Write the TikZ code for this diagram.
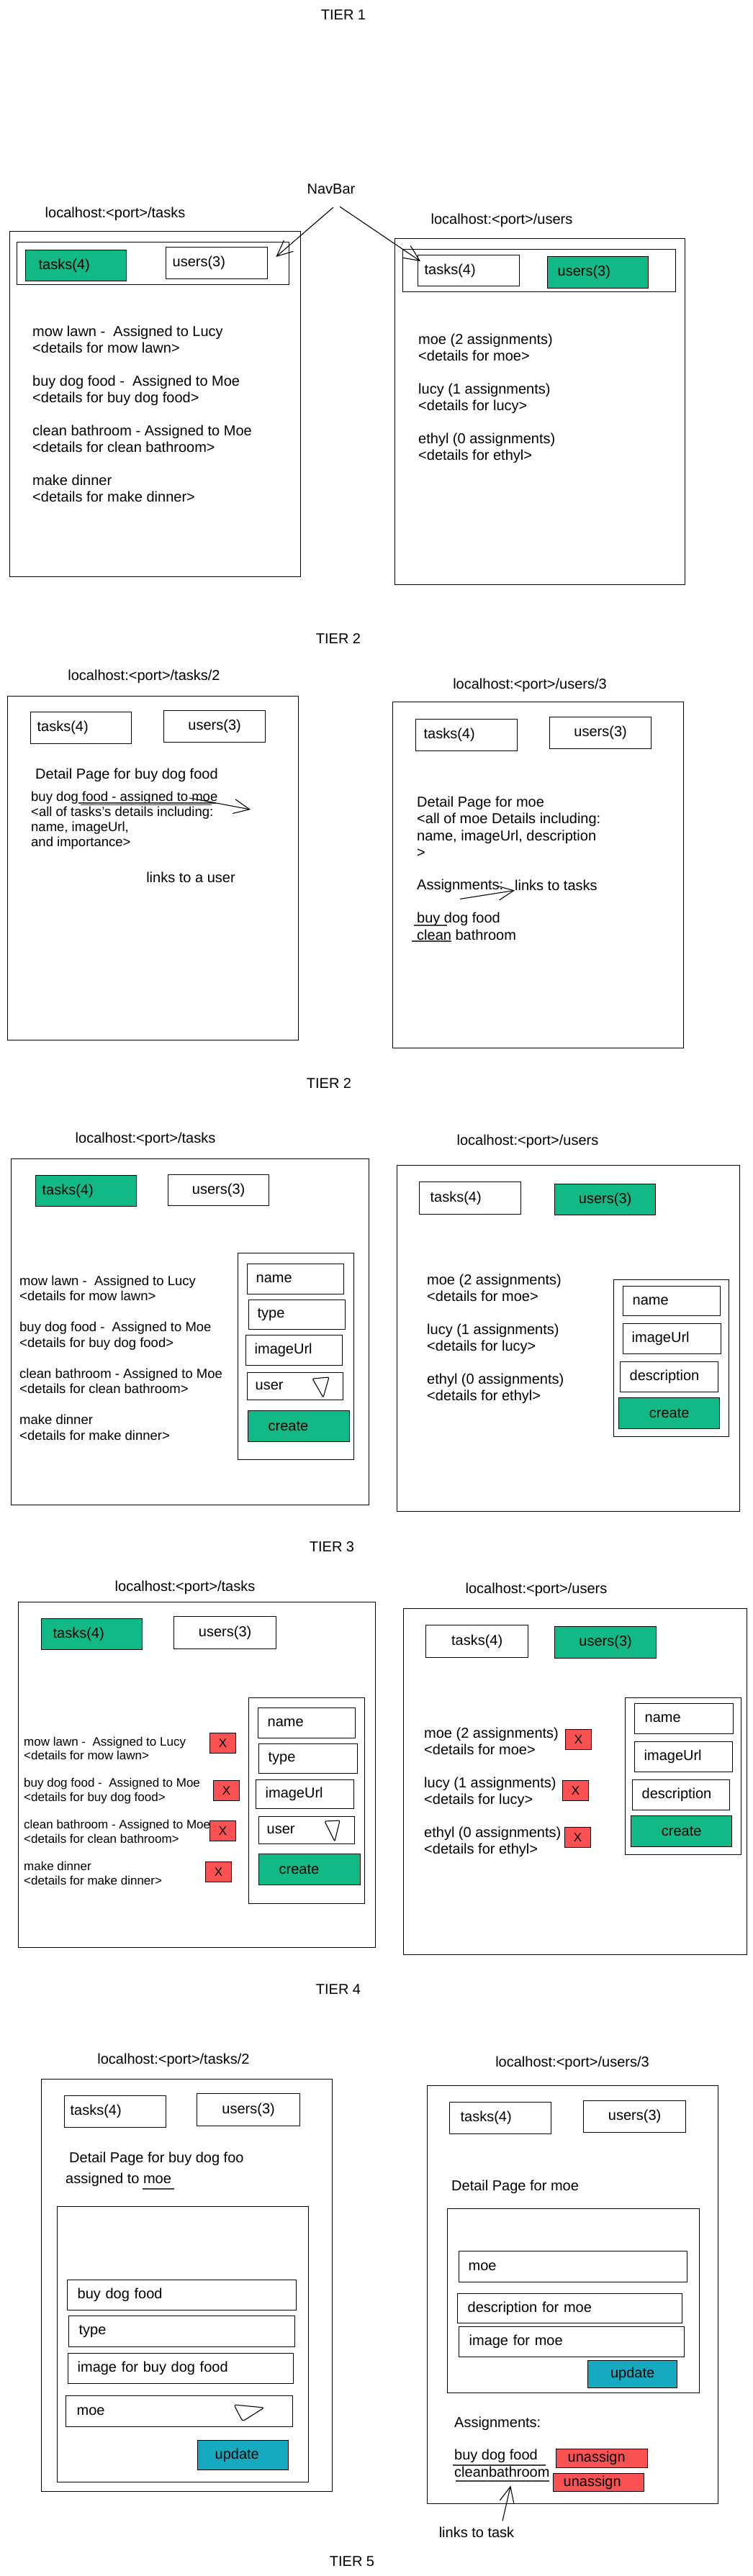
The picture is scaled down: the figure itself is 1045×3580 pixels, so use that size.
\documentclass[tikz,border=0pt]{standalone}
\usepackage{fontspec}
\setmainfont{Liberation Sans}
\usepackage{tikz}
\usetikzlibrary{positioning,arrows.meta}
\definecolor{exgreen}{HTML}{12B886}
\definecolor{exred}{HTML}{FA5252}
\definecolor{exteal}{HTML}{15AABF}
\newcommand{\pxfont}[2]{\fontsize{#1}{#2}\selectfont}
\tikzset{
	lbl/.style={inner sep=0pt, font=\pxfont{20}{23}},
	txt/.style={lbl, align=left, anchor=base west},
	pagebox/.style={draw, line width=1.3pt, anchor=north west, inner sep=0pt},
	btn/.style={pagebox, font=\pxfont{20}{23}},
	lbtn/.style 2 args={btn, text width=#1, inner xsep=#2, align=left},
	gbtn/.style={fill=exgreen},
	rbtn/.style={fill=exred},
	tbtn/.style={fill=exteal},
	xbtn/.style={btn, rbtn, font=\pxfont{17}{19}, minimum width=36, minimum height=28},
	arr/.style={-{Straight Barb[length=22pt,width=20pt]}, line width=1.1pt},
	uline/.style={line width=1.2pt, black!75},
}
\begin{document}
\begin{tikzpicture}[x=1pt, y=-1pt]
			\fill[white] (0,0) rectangle (1045,3580);
			\useasboundingbox (0,0) rectangle (1045,3580);
			% tier 1
			\node[lbl] (tier1) at (477,21) {TIER 1};
			\node[lbl] (navbar) at (460,263) {NavBar};
			\node[lbl] (url1L) at (160,297) {localhost:<port>/tasks};
			\node[pagebox, minimum width=404, minimum height=480] (pg1L) at (13,321) {};
			\node[pagebox, minimum width=378, minimum height=59] (nav1L) at (23,336) {};
			\node[lbtn={104pt}{18pt}, gbtn, minimum height=43] (tasks1L) at (35,347) {tasks(4)};
			\node[lbtn={123pt}{9pt}, minimum height=44] (users1L) at (230,343) {users(3)};
			% multi-line texts are placed by the baseline of their last line
			\node[txt] (list1L) at (45,697) {mow lawn -~ Assigned to Lucy\\<details for mow lawn>\\[23pt]buy dog food -~ Assigned to Moe\\<details for buy dog food>\\[23pt]clean bathroom - Assigned to Moe\\<details for clean bathroom>\\[23pt]make dinner\\<details for make dinner>};
			\node[lbl] (url1R) at (697,306) {localhost:<port>/users};
			\node[pagebox, minimum width=403, minimum height=481] (pg1R) at (548,331) {};
			\node[pagebox, minimum width=379, minimum height=59] (nav1R) at (559,346) {};
			\node[lbtn={123pt}{9pt}, minimum height=43] (tasks1R) at (580,354) {tasks(4)};
			\node[lbtn={112pt}{14pt}, gbtn, minimum height=44] (users1R) at (760,356) {users(3)};
			\node[txt] (list1R) at (581,639) {moe (2 assignments)\\<details for moe>\\[23pt]lucy (1 assignments)\\<details for lucy>\\[23pt]ethyl (0 assignments)\\<details for ethyl>};
			\coordinate (tipL) at ([shift={(-19,21)}]nav1L.north east);
			\coordinate (tipR) at ([shift={(4,9)}]tasks1R.north west);
			\draw[arr] ([xshift=3pt,yshift=-18pt]navbar.south) -- (tipL);
			\draw[arr] ([xshift=12pt,yshift=-17pt]navbar.south) -- (tipR);
			% tier 2
			\node[lbl] (tier2a) at (470,888) {TIER 2};
			\node[lbl] (url2L) at (200,940) {localhost:<port>/tasks/2};
			\node[pagebox, minimum width=404, minimum height=478] (pg2L) at (10,967) {};
			\node[lbtn={122pt}{9pt}, minimum height=44] (tasks2L) at (42,989) {tasks(4)};
			\node[btn, minimum width=141, minimum height=44] (users2L) at (227,987) {users(3)};
			\node[txt] (title2L) at (49,1082) {Detail Page for buy dog food};
			\node[txt, font=\pxfont{18.5}{21}] (det2L) at (43,1176) {buy dog food - assigned to moe\\<all of tasks's details including:\\name, imageUrl,\\and importance>};
			\draw[uline] (109,1116) -- (300,1116);
			\draw[uline] (112,1118.5) -- (294,1118.5);
			\coordinate (det2Ls) at (263,1109);
			\coordinate (det2Le) at (348,1125);
			\draw[arr] (det2Ls) -- (det2Le);
			\node[lbl] (links2L) at (265,1219) {links to a user};
			\node[lbl] (url2R) at (736,952) {localhost:<port>/users/3};
			\node[pagebox, minimum width=404, minimum height=481] (pg2R) at (545,975) {};
			\node[lbtn={119pt}{11pt}, minimum height=44] (tasks2R) at (577,999) {tasks(4)};
			\node[btn, minimum width=141, minimum height=44] (users2R) at (763,996) {users(3)};
			\node[txt, font=\pxfont{20}{23.5}] (det2R) at (579,1191.5) {Detail Page for moe\\<all of moe Details including:\\name, imageUrl, description\\>};
			\node[txt] (assign2R) at (579,1236) {Assignments:};
			\node[txt] (links2R) at (715,1237) {links to tasks};
			\draw[arr] ([yshift=-9pt]assign2R.south) -- (links2R.south west);
			\node[txt, font=\pxfont{20}{24}] (tasks2Rl) at (579,1306) {buy dog food\\clean bathroom};
			\draw[uline] (575,1286) -- (621,1286);
			\draw[uline] (572,1308) -- (627,1308);
			\node[lbl] (tier2b) at (457,1505) {TIER 2};
			% tier 3
			\node[lbl] (url3L) at (202,1583) {localhost:<port>/tasks};
			\node[pagebox, minimum width=497, minimum height=481] (pg3L) at (15,1610) {};
			\node[lbtn={122pt}{9pt}, gbtn, minimum height=43] (tasks3L) at (49,1633) {tasks(4)};
			\node[btn, minimum width=140, minimum height=43] (users3L) at (233,1632) {users(3)};
			\node[txt, font=\pxfont{18.5}{21.5}] (list3L) at (27,2001) {mow lawn -~ Assigned to Lucy\\<details for mow lawn>\\[21.5pt]buy dog food -~ Assigned to Moe\\<details for buy dog food>\\[21.5pt]clean bathroom - Assigned to Moe\\<details for clean bathroom>\\[21.5pt]make dinner\\<details for make dinner>};
			\node[pagebox, minimum width=161, minimum height=287] (form3L) at (330,1741) {};
			\node[lbtn={110pt}{12pt}, minimum height=42] (name3L) at (343,1756) {name};
			\node[lbtn={110pt}{12pt}, minimum height=41] (type3L) at (345,1806) {type};
			\node[lbtn={110pt}{12pt}, minimum height=42] (img3L) at (341,1855) {imageUrl};
			\node[lbtn={111pt}{11pt}, minimum height=38] (user3L) at (343,1907) {user};
			\draw[line width=1.1pt, rounded corners=2pt] (434,1916) -- (457,1914) -- (449,1942) -- cycle;
			\node[lbtn={85pt}{28pt}, gbtn, minimum height=43] (create3L) at (344,1960) {create};
			\node[lbl] (url3R) at (733,1586) {localhost:<port>/users};
			\node[pagebox, minimum width=476, minimum height=481] (pg3R) at (551,1619) {};
			\node[lbtn={111pt}{15pt}, minimum height=45] (tasks3R) at (582,1642) {tasks(4)};
			\node[btn, gbtn, minimum width=140, minimum height=43] (users3R) at (770,1645) {users(3)};
			\node[txt] (list3R) at (593,1946) {moe (2 assignments)\\<details for moe>\\[23pt]lucy (1 assignments)\\<details for lucy>\\[23pt]ethyl (0 assignments)\\<details for ethyl>};
			\node[pagebox, minimum width=160, minimum height=218] (form3R) at (852,1778) {};
			\node[lbtn={109pt}{13pt}, minimum height=41] (name3R) at (865,1787) {name};
			\node[lbtn={112pt}{12pt}, minimum height=42] (img3R) at (865,1839) {imageUrl};
			\node[lbtn={110pt}{13pt}, minimum height=42] (desc3R) at (861,1892) {description};
			\node[btn, gbtn, minimum width=140, minimum height=43] (create3R) at (859,1942) {create};
			\node[lbl] (tier3) at (461,2150) {TIER 3};
			% tier 4
			\node[lbl] (url4L) at (257,2206) {localhost:<port>/tasks};
			\node[pagebox, minimum width=496, minimum height=480] (pg4L) at (25,2226) {};
			\node[lbtn={108pt}{16pt}, gbtn, minimum height=43] (tasks4L) at (57,2249) {tasks(4)};
			\node[btn, minimum width=142, minimum height=45] (users4L) at (241,2246) {users(3)};
			\node[txt, font=\pxfont{17}{19.3}] (list4L) at (33,2619) {mow lawn -~ Assigned to Lucy\\<details for mow lawn>\\[19.3pt]buy dog food -~ Assigned to Moe\\<details for buy dog food>\\[19.3pt]clean bathroom - Assigned to Moe\\<details for clean bathroom>\\[19.3pt]make dinner\\<details for make dinner>};
			\node[xbtn] (x4L1) at (291,2408) {X};
			\node[xbtn] (x4L2) at (296,2474) {X};
			\node[xbtn] (x4L3) at (291,2530) {X};
			\node[xbtn] (x4L4) at (285,2587) {X};
			\node[pagebox, minimum width=161, minimum height=286] (form4L) at (345,2359) {};
			\node[lbtn={109pt}{13pt}, minimum height=42] (name4L) at (358,2373) {name};
			\node[lbtn={111pt}{13pt}, minimum height=41] (type4L) at (359,2423) {type};
			\node[lbtn={110pt}{13pt}, minimum height=40] (img4L) at (355,2473) {imageUrl};
			\node[lbtn={111pt}{11pt}, minimum height=38] (user4L) at (359,2524) {user};
			\draw[line width=1.1pt, rounded corners=2pt] (451,2531) -- (472,2530) -- (465,2559) -- cycle;
			\node[lbtn={85pt}{28pt}, gbtn, minimum height=43] (create4L) at (359,2576) {create};
			\node[lbl] (url4R) at (745,2209) {localhost:<port>/users};
			\node[pagebox, minimum width=477, minimum height=481] (pg4R) at (560,2235) {};
			\node[btn, minimum width=142, minimum height=45] (tasks4R) at (591,2258) {tasks(4)};
			\node[btn, gbtn, minimum width=141, minimum height=44] (users4R) at (770,2260) {users(3)};
			\node[txt] (list4R) at (589,2576) {moe (2 assignments)\\<details for moe>\\[23pt]lucy (1 assignments)\\<details for lucy>\\[23pt]ethyl (0 assignments)\\<details for ethyl>};
			\node[xbtn] (x4R1) at (785,2403) {X};
			\node[xbtn] (x4R2) at (781,2474) {X};
			\node[xbtn] (x4R3) at (784,2539) {X};
			\node[pagebox, minimum width=161, minimum height=218] (form4R) at (868,2359) {};
			\node[lbtn={109pt}{14pt}, minimum height=42] (name4R) at (881,2367) {name};
			\node[lbtn={110pt}{13pt}, minimum height=42] (img4R) at (881,2420) {imageUrl};
			\node[lbtn={109pt}{13pt}, minimum height=42] (desc4R) at (878,2473) {description};
			\node[btn, gbtn, minimum width=140, minimum height=43] (create4R) at (876,2523) {create};
			\node[lbl] (tier4) at (470,2765) {TIER 4};
			% tier 5
			\node[lbl] (url5L) at (241,2863) {localhost:<port>/tasks/2};
			\node[pagebox, minimum width=404, minimum height=573] (pg5L) at (57,2889) {};
			\node[lbtn={125pt}{8pt}, minimum height=44] (tasks5L) at (89,2912) {tasks(4)};
			\node[btn, minimum width=143, minimum height=45] (users5L) at (273,2909) {users(3)};
			\node[txt] (title5L) at (96,3005) {Detail Page for buy dog foo};
			\node[txt] (assign5L) at (91,3034) {assigned to moe};
			\draw[uline] ([xshift=-40pt,yshift=-8pt]assign5L.base east) -- ([xshift=4pt,yshift=-8pt]assign5L.base east);
			\node[pagebox, minimum width=349, minimum height=383] (form5L) at (79,3066) {};
			\node[lbtn={290pt}{14pt}, minimum height=42] (fname5L) at (93,3168) {buy dog food};
			\node[lbtn={286pt}{14pt}, minimum height=43] (ftype5L) at (95,3218) {type};
			\node[lbtn={287pt}{13pt}, minimum height=42] (fimg5L) at (94,3270) {image for buy dog food};
			\node[lbtn={285pt}{15pt}, minimum height=43] (fuser5L) at (91,3329) {moe};
			\draw[line width=1.1pt, rounded corners=3pt] (325,3342) -- (367,3346) -- (337,3365) -- cycle;
			\node[lbtn={78pt}{24pt}, tbtn, minimum height=41] (upd5L) at (274,3391) {update};
			\node[lbl] (url5R) at (795,2867) {localhost:<port>/users/3};
			\node[pagebox, minimum width=404, minimum height=581] (pg5R) at (593,2898) {};
			\node[lbtn={111pt}{15pt}, minimum height=44] (tasks5R) at (624,2921) {tasks(4)};
			\node[btn, minimum width=142, minimum height=44] (users5R) at (810,2919) {users(3)};
			\node[txt] (title5R) at (627,3044) {Detail Page for moe};
			\node[pagebox, minimum width=350, minimum height=256] (form5R) at (621,3069) {};
			\node[lbtn={291pt}{13pt}, minimum height=43] (fname5R) at (637,3128) {moe};
			\node[lbtn={284pt}{14pt}, minimum height=41] (fdesc5R) at (635,3187) {description for moe};
			\node[lbtn={285pt}{14pt}, minimum height=42] (fimg5R) at (637,3233) {image for moe};
			\node[btn, tbtn, minimum width=124, minimum height=38] (upd5R) at (816,3280) {update};
			\node[txt] (assign5R) at (631,3373) {Assignments:};
			\node[txt] (bdf5R) at (631,3418) {buy dog food};
			\node[txt] (cb5R) at (631,3442) {cleanbathroom};
			\draw[uline] (629,3426) -- (758,3426);
			\draw[uline] (633,3448) -- (763,3448);
			\node[lbtn={95pt}{16pt}, rbtn, minimum height=26] (unasg1) at (772,3403) {unassign};
			\node[lbtn={98pt}{14pt}, rbtn, minimum height=25] (unasg2) at (768,3437) {unassign};
			\node[lbl] (links5R) at (662,3519) {links to task};
			\draw[arr] ([xshift=36pt,yshift=8pt]links5R.north) -- ([xshift=12pt,yshift=-12pt]cb5R.south);
			\node[lbl] (tier5) at (489,3560) {TIER 5};
		\end{tikzpicture}
\end{document}
